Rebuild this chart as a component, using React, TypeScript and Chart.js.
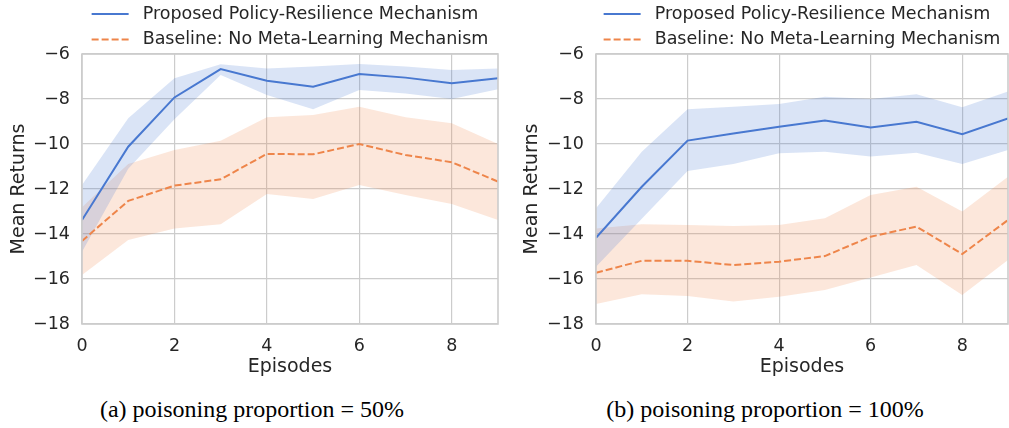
import React, { useEffect, useRef } from "react";
import { Chart, registerables } from "chart.js";
Chart.register(...registerables);

// ---------------- data ----------------
const episodes = [0, 1, 2, 3, 4, 5, 6, 7, 8, 9];
const xTickValues = [0, 2, 4, 6, 8];
const yTickValues = [-18, -16, -14, -12, -10, -8, -6];
const seriesLabels = [
  "Proposed Policy-Resilience Mechanism",
  "Baseline: No Meta-Learning Mechanism",
];
const captions = ["(a) poisoning proportion = 50%", "(b) poisoning proportion = 100%"];

const proposedMean50 = [-13.38, -10.12, -7.93, -6.67, -7.19, -7.45, -6.89, -7.05, -7.3, -7.08];
const proposedUpper50 = [-11.82, -8.86, -7.08, -6.46, -6.64, -6.56, -6.44, -6.56, -6.71, -6.64];
const proposedLower50 = [-14.79, -11.1, -8.9, -6.93, -7.82, -8.46, -7.6, -7.75, -8.0, -7.57];
const baselineMean50 = [-14.31, -12.53, -11.85, -11.57, -10.44, -10.46, -10.0, -10.49, -10.81, -11.67];
const baselineUpper50 = [-12.81, -10.89, -10.27, -9.85, -8.81, -8.71, -8.34, -8.81, -9.08, -10.0];
const baselineLower50 = [-15.82, -14.27, -13.75, -13.57, -12.22, -12.44, -11.82, -12.27, -12.67, -13.38];

const proposedMean100 = [-14.17, -11.9, -9.85, -9.53, -9.23, -8.96, -9.27, -9.01, -9.56, -8.86];
const proposedUpper100 = [-12.86, -10.34, -8.46, -8.34, -8.22, -7.9, -8.0, -7.79, -8.37, -7.67];
const proposedLower100 = [-15.45, -13.32, -11.2, -10.89, -10.41, -10.34, -10.56, -10.39, -10.89, -10.27];
const baselineMean100 = [-15.72, -15.19, -15.19, -15.38, -15.23, -14.98, -14.12, -13.67, -14.89, -13.38];
const baselineUpper100 = [-13.75, -13.57, -13.6, -13.64, -13.6, -13.3, -12.27, -11.9, -13.0, -11.45];
const baselineLower100 = [-17.11, -16.68, -16.76, -17.0, -16.79, -16.49, -15.93, -15.38, -16.71, -15.16];

// ---------------- style ----------------
const BLUE = "#4878d0";
const ORANGE = "#ee854a";
const BLUE_BAND = "rgba(72,120,208,0.2)";
const ORANGE_BAND = "rgba(238,133,74,0.2)";
const TEXT = "#262626";
const GRID = "#cccccc";
const FONT = "'DejaVu Sans', sans-serif";
const LINE_W = 2;
const DASH = [7, 3];

const pts = (ys: number[]) => episodes.map((x, i) => ({ x, y: ys[i] }));

const spinePlugin = {
  id: "spineBox",
  afterDatasetsDraw(chart: any) {
    const { ctx, chartArea } = chart;
    ctx.save();
    ctx.strokeStyle = GRID;
    ctx.lineWidth = 1.6;
    ctx.strokeRect(chartArea.left, chartArea.top, chartArea.right - chartArea.left, chartArea.bottom - chartArea.top);
    ctx.restore();
  },
};

const legendPlugin = {
  id: "seabornLegend",
  afterDraw(chart: any, _args: any, opts: any) {
    const { ctx, chartArea } = chart;
    const items = chart.data.datasets.filter((d: any) => d.inLegend);
    ctx.save();
    ctx.font = `17.5px ${FONT}`;
    const lineLen = 37;
    const gap = 14;
    const maxW = Math.max(...items.map((d: any) => ctx.measureText(d.label).width));
    const w = lineLen + gap + maxW;
    const left = (chartArea.left + chartArea.right) / 2 - w / 2;
    items.forEach((d: any, i: number) => {
      const y = opts.top + i * opts.rowH;
      ctx.beginPath();
      ctx.strokeStyle = d.borderColor;
      ctx.lineWidth = d.borderWidth;
      ctx.setLineDash(d.borderDash || []);
      ctx.moveTo(left, y);
      ctx.lineTo(left + lineLen, y);
      ctx.stroke();
      ctx.setLineDash([]);
      ctx.fillStyle = TEXT;
      ctx.textAlign = "left";
      ctx.textBaseline = "middle";
      ctx.fillText(d.label, left + lineLen + gap, y);
    });
    ctx.restore();
  },
};

type PanelProps = {
  left: number;
  width: number;
  yAxisWidth: number;
  padRight: number;
  yTitlePad: number;
  pMean: number[];
  pUp: number[];
  pLo: number[];
  bMean: number[];
  bUp: number[];
  bLo: number[];
};

const HEIGHT = 385;

function Panel(p: PanelProps) {
  const ref = useRef<HTMLCanvasElement | null>(null);
  useEffect(() => {
    if (!ref.current) return;
    const tickFont = { family: FONT, size: 17.5 };
    const titleFont = { family: FONT, size: 19 };
    const chart = new Chart(ref.current, {
      type: "line",
      data: {
        datasets: [
          { label: seriesLabels[0], data: pts(p.pMean), borderColor: BLUE, borderWidth: LINE_W, pointRadius: 0, fill: false, order: 0, inLegend: true } as any,
          { label: seriesLabels[1], data: pts(p.bMean), borderColor: ORANGE, borderWidth: LINE_W, borderDash: DASH, pointRadius: 0, fill: false, order: 0, inLegend: true } as any,
          { label: "p-up", data: pts(p.pUp), borderWidth: 0, pointRadius: 0, backgroundColor: BLUE_BAND, fill: "+1", order: 1 },
          { label: "p-lo", data: pts(p.pLo), borderWidth: 0, pointRadius: 0, fill: false, order: 1 },
          { label: "b-up", data: pts(p.bUp), borderWidth: 0, pointRadius: 0, backgroundColor: ORANGE_BAND, fill: "+1", order: 1 },
          { label: "b-lo", data: pts(p.bLo), borderWidth: 0, pointRadius: 0, fill: false, order: 1 },
        ],
      },
      options: {
        animation: false,
        responsive: false,
        maintainAspectRatio: false,
        events: [],
        layout: { padding: { top: 54, right: p.padRight, left: 0, bottom: 0 } },
        plugins: {
          legend: { display: false },
          tooltip: { enabled: false },
          seabornLegend: { top: 14, rowH: 25.5 },
        } as any,
        scales: {
          x: {
            type: "linear",
            min: 0,
            max: 9,
            afterBuildTicks: (s: any) => {
              s.ticks = xTickValues.map((v) => ({ value: v }));
            },
            afterFit: (s: any) => {
              s.height = 61;
            },
            grid: { color: GRID, lineWidth: 1.2, drawTicks: false },
            border: { display: false },
            ticks: { padding: 12, color: TEXT, font: tickFont, maxRotation: 0 },
            title: { display: true, text: "Episodes", color: TEXT, font: titleFont, padding: { top: 0, bottom: 7 } },
          },
          y: {
            type: "linear",
            min: -18,
            max: -6,
            afterBuildTicks: (s: any) => {
              s.ticks = yTickValues.map((v) => ({ value: v }));
            },
            afterFit: (s: any) => {
              s.width = p.yAxisWidth;
            },
            grid: { color: GRID, lineWidth: 1.2, drawTicks: false },
            border: { display: false },
            ticks: {
              padding: 12,
              color: TEXT,
              font: tickFont,
              callback: (v: any) => String(v).replace("-", "\u2212"),
            },
            title: { display: true, text: "Mean Returns", color: TEXT, font: titleFont, padding: { top: p.yTitlePad, bottom: 0 } },
          },
        },
      },
      plugins: [spinePlugin, legendPlugin],
    });
    return () => chart.destroy();
  }, []);
  return (
    <canvas
      ref={ref}
      width={p.width}
      height={HEIGHT}
      style={{ position: "absolute", left: p.left, top: 0, width: p.width, height: HEIGHT, display: "block" }}
    />
  );
}

export default function App() {
  const capStyle: React.CSSProperties = {
    position: "absolute",
    top: 397,
    width: 420,
    textAlign: "center",
    fontFamily: "'Liberation Serif', 'Times New Roman', serif",
    fontSize: 24,
    lineHeight: "24px",
    color: "#000",
    whiteSpace: "nowrap",
  };
  return (
    <div style={{ position: "absolute", left: 0, top: 0, width: 1009, height: 428, background: "#fff", overflow: "hidden" }}>
      <Panel left={0} width={510} yAxisWidth={82} padRight={12} yTitlePad={8}
        pMean={proposedMean50} pUp={proposedUpper50} pLo={proposedLower50}
        bMean={baselineMean50} bUp={baselineUpper50} bLo={baselineLower50} />
      <Panel left={510} width={499} yAxisWidth={86} padRight={1} yTitlePad={11}
        pMean={proposedMean100} pUp={proposedUpper100} pLo={proposedLower100}
        bMean={baselineMean100} bUp={baselineUpper100} bLo={baselineLower100} />
      <div style={{ ...capStyle, left: 252 - 210 }}>{captions[0]}</div>
      <div style={{ ...capStyle, left: 765 - 210 }}>{captions[1]}</div>
    </div>
  );
}
